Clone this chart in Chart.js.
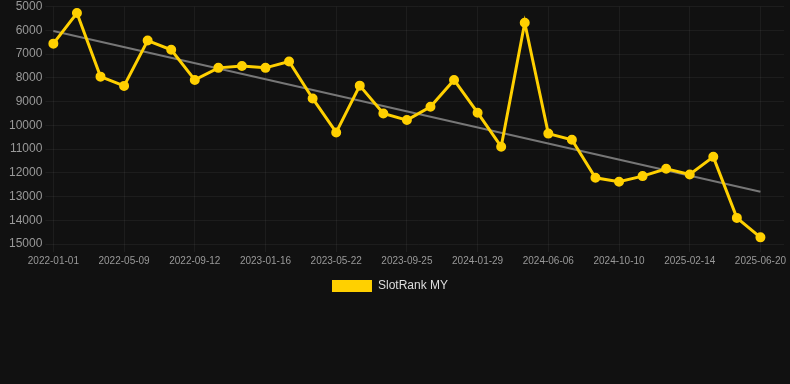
<!DOCTYPE html>
<html>
<head>
<meta charset="utf-8">
<script src="https://cdn.jsdelivr.net/npm/chart.js@4"></script>
<style>
  html, body { margin: 0; padding: 0; background: #111111; }
  #wrap { width: 790px; height: 302px; position: relative; }
</style>
</head>
<body>
<div id="wrap"><canvas id="myChart"></canvas></div>
<script>
const dates = ['2022-01-01', '2022-02-12', '2022-03-26', '2022-05-09', '2022-06-20', '2022-08-01',
    '2022-09-12', '2022-10-24', '2022-12-05', '2023-01-16', '2023-02-27', '2023-04-10',
    '2023-05-22', '2023-07-03', '2023-08-14', '2023-09-25', '2023-11-06', '2023-12-18',
    '2024-01-29', '2024-03-11', '2024-04-24', '2024-06-06', '2024-07-18', '2024-08-29',
    '2024-10-10', '2024-11-21', '2025-01-03', '2025-02-14', '2025-03-28', '2025-05-09',
    '2025-06-20', ''];

const rank = [6560, 5270, 7950, 8340, 6430, 6820, 8090, 7580, 7500, 7580, 7310, 8870,
    10300, 8330, 9500, 9780, 9220, 8090, 9470, 10900, 5680, 10350, 10610, 12210,
    12380, 12140, 11830, 12070, 11330, 13900, 14720];

// trend line ends
const trendStart = 6030;
const trendEnd = 12800;

const yTicks = [5000, 6000, 7000, 8000, 9000, 10000, 11000, 12000, 13000, 14000, 15000];

const trend = rank.map(() => null);
trend[0] = trendStart;
trend[rank.length - 1] = trendEnd;

const gridColor = 'rgba(255,255,255,0.05)';
const fontFamily = 'Arial, "Liberation Sans", sans-serif';

// nudge the legend a little to the left, like the original
const legendShift = {
    id: 'legendShift',
    afterLayout: chart => {
        chart.legend.left -= 5;
        chart.legend.right -= 5;
    }
};

const ctx = document.getElementById('myChart').getContext('2d');

let myChart = new Chart(ctx, {
    type: 'line',
    data: {
        labels: dates,
        datasets: [{
            label: 'SlotRank MY',
            data: rank,
            borderColor: '#FFD000',
            backgroundColor: '#FFD000',
            borderWidth: 3,
            pointRadius: 4,
            pointBorderWidth: 2,
            pointHoverRadius: 4,
            tension: 0
        }, {
            label: 'trend',
            data: trend,
            borderColor: '#777777',
            borderWidth: 2,
            pointRadius: 0,
            spanGaps: true
        }]
    },
    options: {
        responsive: true,
        maintainAspectRatio: false,
        animation: false,
        layout: { padding: 0 },
        plugins: {
            legend: {
                position: 'bottom',
                labels: {
                    color: '#dddddd',
                    boxWidth: 40,
                    boxHeight: 12,
                    font: { family: fontFamily, size: 12 },
                    filter: item => {
                        item.lineWidth = 0;
                        return item.text !== 'trend';
                    }
                }
            },
            tooltip: { enabled: false }
        },
        scales: {
            x: {
                grid: { color: c => (c.index % 3 === 0 ? gridColor : 'transparent') },
                border: { display: false },
                ticks: {
                    color: '#999999',
                    autoSkip: false,
                    maxRotation: 0,
                    font: { family: fontFamily, size: 10 },
                    callback: function (val, i) { return i % 3 === 0 ? dates[i] : ''; }
                }
            },
            y: {
                reverse: true,
                min: yTicks[0],
                max: yTicks[yTicks.length - 1],
                grid: { color: gridColor },
                border: { display: false },
                afterBuildTicks: axis => { axis.ticks = yTicks.map(v => ({ value: v })); },
                afterFit: axis => { axis.width += 6; },
                ticks: {
                    color: '#999999',
                    font: { family: fontFamily, size: 12, lineHeight: 0.6 },
                    callback: v => String(v)
                }
            }
        }
    },
    plugins: [legendShift]
});
</script>
</body>
</html>
